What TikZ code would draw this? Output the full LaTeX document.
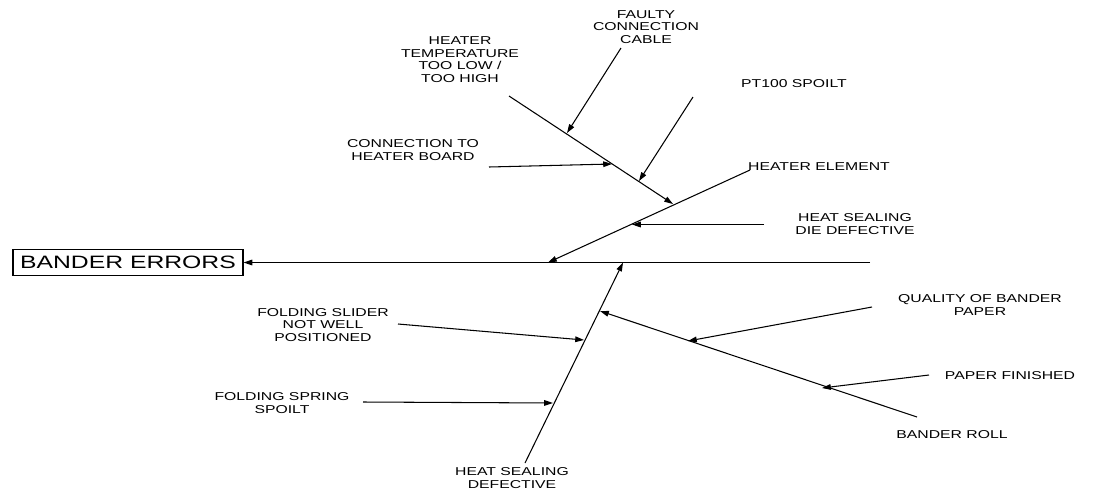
\documentclass[tikz,border=0pt]{standalone}
\usepackage{fontspec}
\newfontfamily\labfont[FakeStretch=1.38]{Liberation Sans}
\usetikzlibrary{arrows.meta}
\begin{document}
\begin{tikzpicture}[x=0.02cm,y=-0.02cm,
  lab/.style={font=\labfont\fontsize{6.5}{7.2}\selectfont, align=center, inner sep=0pt},
  bone/.style={line width=0.6pt, -{Triangle[length=5pt,width=3.2pt]}},
]
\useasboundingbox (0,0) rectangle (1093,491);
% effect box
\node[draw, line width=0.6pt, minimum width=4.6cm, minimum height=0.52cm, inner sep=0pt,
  font=\labfont\fontsize{10.2}{12}\selectfont] (box) at (128,262.5) {BANDER ERRORS};
% coordinates
\coordinate (spineR) at (870,262.5);
\coordinate (heS) at (750,170);   \coordinate (heE) at (548,262.5);
\coordinate (hsS) at (525,463);   \coordinate (hsE) at (623,262.5);
\coordinate (tempS) at (509,96);  \coordinate (tempE) at (673,204);
\coordinate (fcS) at (621,48);    \coordinate (fcE) at (567,133);
\coordinate (ptS) at (693,97);    \coordinate (ptE) at (639,181);
\coordinate (ctS) at (489,167);   \coordinate (ctE) at (612,164);
\coordinate (hsdS) at (764,224.5);  \coordinate (hsdE) at (632,224.5);
\coordinate (brS) at (917,417);   \coordinate (brE) at (600,311);
\coordinate (fsS) at (398,324);   \coordinate (fsE) at (584,340);
\coordinate (fspS) at (363,402);  \coordinate (fspE) at (553,403);
\coordinate (qS) at (872,307);    \coordinate (qE) at (688,341);
\coordinate (pfS) at (929,375);   \coordinate (pfE) at (822,388);
% labels
\node[lab] (tempL) at (460,59.5) {HEATER\\TEMPERATURE\\TOO LOW /\\TOO HIGH};
\node[lab] (fcL) at (646,27) {FAULTY\\CONNECTION\\CABLE};
\node[lab] (ptL) at (794,84) {PT100 SPOILT};
\node[lab] (ctL) at (413,150) {CONNECTION TO\\HEATER BOARD};
\node[lab] (heL) at (819,167) {HEATER ELEMENT};
\node[lab] (hsdL) at (855,224) {HEAT SEALING\\DIE DEFECTIVE};
\node[lab] (fsL) at (323,325) {FOLDING SLIDER\\NOT WELL\\POSITIONED};
\node[lab] (fspL) at (282,403) {FOLDING SPRING\\SPOILT};
\node[lab] (hsL) at (512,478) {HEAT SEALING\\DEFECTIVE};
\node[lab] (qL) at (980,305) {QUALITY OF BANDER\\PAPER};
\node[lab] (pfL) at (1010,376) {PAPER FINISHED};
\node[lab] (brL) at (952,435) {BANDER ROLL};
% connectors
\draw[bone] (spineR) -- (box.east);
\draw[bone] (heS) -- (heE);
\draw[bone] (hsS) -- (hsE);
\draw[bone] (tempS) -- (tempE);
\draw[bone] (fcS) -- (fcE);
\draw[bone] (ptS) -- (ptE);
\draw[bone] (ctS) -- (ctE);
\draw[bone] (hsdS) -- (hsdE);
\draw[bone] (brS) -- (brE);
\draw[bone] (fsS) -- (fsE);
\draw[bone] (fspS) -- (fspE);
\draw[bone] (qS) -- (qE);
\draw[bone] (pfS) -- (pfE);
\end{tikzpicture}
\end{document}
